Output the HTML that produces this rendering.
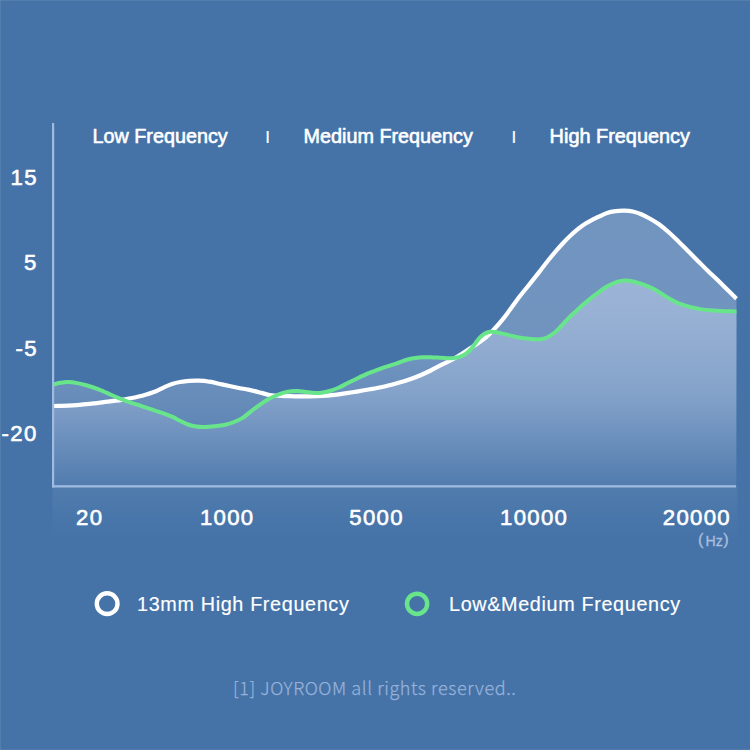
<!DOCTYPE html>
<html><head><meta charset="utf-8"><title>Frequency response</title>
<style>
html,body{margin:0;padding:0;overflow:hidden;}
body{width:750px;height:750px;overflow:hidden;background:#4573a8;}
svg{display:block;}
text{font-family:"Liberation Sans",sans-serif;fill:#fff;stroke:#fff;stroke-width:0.6px;stroke-linejoin:round;}
.ft{font-family:"Noto Sans CJK SC","Liberation Sans",sans-serif;font-weight:300;fill:#98b2d8;stroke:#98b2d8;stroke-width:0.25px;}
.hz{fill:#a9bfdf;stroke:#a9bfdf;stroke-width:0.3px;}
</style></head><body>
<svg width="750" height="750" viewBox="0 0 750 750">
<defs>
<linearGradient id="gw" x1="0" y1="210" x2="0" y2="486" gradientUnits="userSpaceOnUse">
<stop offset="0.0000" stop-color="#e8edff" stop-opacity="0.275"/>
<stop offset="0.4348" stop-color="#e8edff" stop-opacity="0.269"/>
<stop offset="0.6884" stop-color="#e8edff" stop-opacity="0.209"/>
<stop offset="0.8696" stop-color="#e8edff" stop-opacity="0.111"/>
<stop offset="0.9710" stop-color="#e8edff" stop-opacity="0.056"/>
<stop offset="1.0000" stop-color="#e8edff" stop-opacity="0.040"/>
</linearGradient>
<linearGradient id="gg" x1="0" y1="280" x2="0" y2="486" gradientUnits="userSpaceOnUse">
<stop offset="0.0000" stop-color="#e8edff" stop-opacity="0.357"/>
<stop offset="0.0971" stop-color="#e8edff" stop-opacity="0.337"/>
<stop offset="0.5340" stop-color="#e8edff" stop-opacity="0.223"/>
<stop offset="0.6553" stop-color="#e8edff" stop-opacity="0.167"/>
<stop offset="0.8252" stop-color="#e8edff" stop-opacity="0.098"/>
<stop offset="0.9612" stop-color="#e8edff" stop-opacity="0.049"/>
<stop offset="1.0000" stop-color="#e8edff" stop-opacity="0.034"/>
</linearGradient>
<linearGradient id="gb" x1="0" y1="486" x2="0" y2="540" gradientUnits="userSpaceOnUse">
<stop offset="0" stop-color="#fff" stop-opacity="0.062"/>
<stop offset="0.5" stop-color="#fff" stop-opacity="0.028"/>
<stop offset="1" stop-color="#fff" stop-opacity="0"/>
</linearGradient>
</defs>
<rect x="0" y="0" width="750" height="750" fill="#4573a8"/>
<rect x="0" y="0" width="750" height="1" fill="#fff" fill-opacity="0.08"/>
<rect x="0" y="0" width="1" height="750" fill="#fff" fill-opacity="0.08"/>
<rect x="0" y="749" width="750" height="1" fill="#fff" fill-opacity="0.06"/>
<rect x="52.500" y="486" width="685" height="54" fill="url(#gb)"/>
<path d="M53.0,406.0 C55.5,405.9 63.3,405.9 68.0,405.7 C72.7,405.5 76.8,405.1 81.3,404.7 C85.8,404.3 90.2,403.8 94.7,403.3 C99.2,402.8 103.6,402.3 108.0,401.7 C112.4,401.1 116.8,400.5 121.3,399.8 C125.8,399.1 131.2,398.2 134.7,397.5 C138.1,396.8 139.8,396.4 142.0,395.8 C144.2,395.2 145.7,394.8 148.0,394.0 C150.3,393.2 153.3,392.4 156.0,391.3 C158.7,390.2 161.3,388.5 164.0,387.3 C166.7,386.1 169.3,384.9 172.0,384.0 C174.7,383.1 177.1,382.5 180.0,382.0 C182.9,381.5 186.2,381.1 189.3,380.9 C192.4,380.7 195.4,380.6 198.7,380.7 C202.0,380.8 205.8,381.1 209.3,381.7 C212.9,382.2 216.4,383.2 220.0,384.0 C223.6,384.8 227.4,385.6 230.7,386.3 C234.0,387.0 237.1,387.6 240.0,388.2 C242.9,388.8 244.7,388.8 248.3,389.6 C251.9,390.4 258.1,392.0 261.7,392.9 C265.3,393.8 266.4,394.5 269.7,395.0 C273.0,395.5 277.5,395.8 281.7,396.0 C285.9,396.2 290.6,396.2 295.0,396.3 C299.4,396.4 303.9,396.4 308.3,396.4 C312.8,396.3 317.8,396.2 321.7,396.0 C325.6,395.8 328.4,395.6 332.0,395.2 C335.6,394.8 339.2,394.3 343.3,393.7 C347.4,393.1 352.2,392.3 356.7,391.6 C361.1,390.9 365.6,390.1 370.0,389.3 C374.4,388.5 378.9,387.7 383.3,386.7 C387.8,385.7 392.2,384.5 396.7,383.3 C401.1,382.1 405.9,380.7 410.0,379.3 C414.1,377.9 417.6,376.5 421.0,375.0 C424.4,373.5 427.3,372.2 430.7,370.5 C434.1,368.8 437.8,366.7 441.3,364.9 C444.9,363.1 448.4,361.6 452.0,359.6 C455.6,357.7 459.1,355.4 462.7,353.2 C466.2,351.0 469.7,348.7 473.3,346.3 C476.9,343.9 480.8,341.6 484.3,338.7 C487.8,335.8 491.1,332.4 494.3,329.0 C497.5,325.6 500.4,322.2 503.3,318.6 C506.2,315.0 509.0,310.9 511.7,307.3 C514.4,303.7 516.7,300.4 519.2,297.1 C521.7,293.8 524.2,290.8 526.7,287.7 C529.2,284.6 531.8,281.4 534.2,278.4 C536.6,275.4 538.6,272.8 541.0,269.7 C543.4,266.6 546.2,262.9 548.7,259.8 C551.2,256.7 553.6,253.8 556.1,250.9 C558.6,248.0 561.1,245.2 563.6,242.5 C566.1,239.8 568.6,237.3 571.1,235.0 C573.6,232.7 576.1,230.4 578.6,228.5 C581.1,226.6 583.6,224.8 586.0,223.3 C588.4,221.8 590.8,220.6 593.0,219.4 C595.2,218.2 597.1,217.4 599.5,216.3 C601.9,215.2 604.4,213.8 607.1,212.9 C609.8,212.1 612.8,211.6 615.6,211.2 C618.4,210.8 621.2,210.6 624.1,210.7 C627.0,210.8 629.9,210.9 632.7,211.5 C635.6,212.1 638.4,213.0 641.2,214.2 C644.0,215.4 646.7,216.8 649.7,218.5 C652.7,220.2 655.7,221.9 659.0,224.3 C662.3,226.7 666.2,230.0 669.6,233.0 C673.0,236.0 676.0,239.1 679.2,242.2 C682.4,245.3 685.6,248.6 688.8,251.8 C692.0,255.0 695.2,258.2 698.4,261.4 C701.6,264.6 704.8,267.9 708.0,271.0 C711.2,274.1 714.4,276.9 717.6,280.0 C720.8,283.1 724.1,286.5 727.2,289.6 C730.4,292.7 735.0,297.2 736.5,298.7 L736.3,486.3 L53,486.3 Z" fill="url(#gw)"/>
<path d="M53.0,384.7 C54.2,384.4 57.5,383.2 60.0,382.8 C62.5,382.4 65.1,381.9 68.0,382.0 C70.9,382.1 74.0,382.5 77.3,383.1 C80.6,383.7 84.4,384.7 88.0,385.7 C91.6,386.7 95.2,387.9 98.7,389.3 C102.2,390.7 105.8,392.4 109.3,394.0 C112.8,395.6 116.4,397.2 120.0,398.7 C123.6,400.1 127.2,401.5 130.7,402.7 C134.2,403.9 137.7,404.7 141.0,405.8 C144.3,406.9 147.3,408.1 150.7,409.2 C154.1,410.3 157.8,411.4 161.3,412.7 C164.9,413.9 168.9,415.4 172.0,416.7 C175.1,418.0 177.3,419.4 180.0,420.7 C182.7,422.0 185.3,423.5 188.0,424.5 C190.7,425.5 193.3,426.2 196.0,426.6 C198.7,427.0 200.9,427.2 204.0,427.1 C207.1,427.1 211.1,426.7 214.7,426.3 C218.2,425.9 222.1,425.4 225.3,424.7 C228.5,424.0 231.1,423.2 234.0,422.0 C236.9,420.8 240.2,419.4 243.0,417.6 C245.8,415.8 248.3,413.4 251.0,411.3 C253.7,409.2 256.3,407.2 259.0,405.3 C261.7,403.4 264.3,401.6 267.0,400.0 C269.7,398.4 272.3,397.2 275.0,396.0 C277.7,394.8 280.3,393.7 283.0,392.9 C285.7,392.1 288.6,391.6 291.0,391.3 C293.4,391.0 295.2,391.0 297.7,391.1 C300.1,391.2 302.8,391.7 305.7,392.0 C308.6,392.3 312.1,392.8 315.0,392.9 C317.9,393.0 320.4,392.8 323.0,392.4 C325.6,392.0 328.0,391.4 330.5,390.7 C333.0,390.0 335.2,389.2 338.0,388.0 C340.8,386.8 344.2,384.9 347.3,383.3 C350.4,381.8 352.9,380.5 356.7,378.7 C360.5,376.9 365.6,374.5 370.0,372.7 C374.4,370.9 378.9,369.3 383.3,367.7 C387.8,366.1 392.9,364.6 396.7,363.3 C400.5,362.0 402.9,360.9 406.0,360.0 C409.1,359.1 412.5,358.4 415.3,358.0 C418.1,357.6 420.5,357.4 423.0,357.3 C425.5,357.2 427.4,357.1 430.5,357.2 C433.6,357.3 437.7,357.6 441.3,357.8 C444.9,358.0 449.0,358.4 452.0,358.2 C455.0,358.0 457.2,357.6 459.5,356.9 C461.8,356.1 463.9,355.0 465.9,353.7 C467.8,352.4 469.6,350.7 471.2,348.9 C472.8,347.1 474.1,345.0 475.5,343.1 C476.9,341.2 478.2,339.2 479.7,337.7 C481.2,336.1 482.8,334.8 484.5,333.8 C486.2,332.8 488.2,332.1 490.0,331.8 C491.8,331.5 493.4,331.8 495.0,332.0 C496.6,332.2 497.3,332.5 499.5,333.0 C501.7,333.5 505.0,334.2 508.0,334.9 C511.0,335.6 514.2,336.6 517.3,337.2 C520.4,337.8 523.9,338.2 526.7,338.6 C529.5,339.0 531.8,339.2 534.0,339.3 C536.2,339.4 537.9,339.6 540.0,339.3 C542.1,339.0 544.1,338.8 546.5,337.7 C548.9,336.6 551.9,334.8 554.4,332.8 C556.9,330.8 559.2,328.1 561.6,325.6 C564.0,323.1 566.4,320.2 568.8,317.8 C571.2,315.4 573.6,313.4 576.0,311.2 C578.4,309.0 580.8,306.7 583.2,304.6 C585.6,302.5 588.0,300.5 590.4,298.6 C592.8,296.7 595.2,295.0 597.6,293.2 C600.0,291.4 602.6,289.2 604.8,287.8 C607.0,286.4 608.9,285.5 611.0,284.5 C613.1,283.5 615.2,282.4 617.5,281.8 C619.8,281.2 622.2,280.7 624.6,280.6 C627.0,280.5 628.8,280.6 632.0,281.3 C635.2,282.0 640.1,283.4 643.6,284.6 C647.1,285.9 650.1,287.2 653.2,288.8 C656.3,290.4 659.2,292.3 662.0,294.0 C664.8,295.7 667.5,297.6 670.0,299.0 C672.5,300.4 674.7,301.6 677.0,302.6 C679.3,303.6 681.6,304.4 684.0,305.2 C686.4,306.0 688.9,306.8 691.6,307.4 C694.3,308.0 696.9,308.6 700.0,309.1 C703.1,309.6 706.3,310.0 710.0,310.3 C713.7,310.6 717.6,310.9 722.0,311.1 C726.4,311.3 734.1,311.4 736.5,311.5 L736.3,486.3 L53,486.3 Z" fill="url(#gg)"/>
<path d="M53.0,406.0 C55.5,405.9 63.3,405.9 68.0,405.7 C72.7,405.5 76.8,405.1 81.3,404.7 C85.8,404.3 90.2,403.8 94.7,403.3 C99.2,402.8 103.6,402.3 108.0,401.7 C112.4,401.1 116.8,400.5 121.3,399.8 C125.8,399.1 131.2,398.2 134.7,397.5 C138.1,396.8 139.8,396.4 142.0,395.8 C144.2,395.2 145.7,394.8 148.0,394.0 C150.3,393.2 153.3,392.4 156.0,391.3 C158.7,390.2 161.3,388.5 164.0,387.3 C166.7,386.1 169.3,384.9 172.0,384.0 C174.7,383.1 177.1,382.5 180.0,382.0 C182.9,381.5 186.2,381.1 189.3,380.9 C192.4,380.7 195.4,380.6 198.7,380.7 C202.0,380.8 205.8,381.1 209.3,381.7 C212.9,382.2 216.4,383.2 220.0,384.0 C223.6,384.8 227.4,385.6 230.7,386.3 C234.0,387.0 237.1,387.6 240.0,388.2 C242.9,388.8 244.7,388.8 248.3,389.6 C251.9,390.4 258.1,392.0 261.7,392.9 C265.3,393.8 266.4,394.5 269.7,395.0 C273.0,395.5 277.5,395.8 281.7,396.0 C285.9,396.2 290.6,396.2 295.0,396.3 C299.4,396.4 303.9,396.4 308.3,396.4 C312.8,396.3 317.8,396.2 321.7,396.0 C325.6,395.8 328.4,395.6 332.0,395.2 C335.6,394.8 339.2,394.3 343.3,393.7 C347.4,393.1 352.2,392.3 356.7,391.6 C361.1,390.9 365.6,390.1 370.0,389.3 C374.4,388.5 378.9,387.7 383.3,386.7 C387.8,385.7 392.2,384.5 396.7,383.3 C401.1,382.1 405.9,380.7 410.0,379.3 C414.1,377.9 417.6,376.5 421.0,375.0 C424.4,373.5 427.3,372.2 430.7,370.5 C434.1,368.8 437.8,366.7 441.3,364.9 C444.9,363.1 448.4,361.6 452.0,359.6 C455.6,357.7 459.1,355.4 462.7,353.2 C466.2,351.0 469.7,348.7 473.3,346.3 C476.9,343.9 480.8,341.6 484.3,338.7 C487.8,335.8 491.1,332.4 494.3,329.0 C497.5,325.6 500.4,322.2 503.3,318.6 C506.2,315.0 509.0,310.9 511.7,307.3 C514.4,303.7 516.7,300.4 519.2,297.1 C521.7,293.8 524.2,290.8 526.7,287.7 C529.2,284.6 531.8,281.4 534.2,278.4 C536.6,275.4 538.6,272.8 541.0,269.7 C543.4,266.6 546.2,262.9 548.7,259.8 C551.2,256.7 553.6,253.8 556.1,250.9 C558.6,248.0 561.1,245.2 563.6,242.5 C566.1,239.8 568.6,237.3 571.1,235.0 C573.6,232.7 576.1,230.4 578.6,228.5 C581.1,226.6 583.6,224.8 586.0,223.3 C588.4,221.8 590.8,220.6 593.0,219.4 C595.2,218.2 597.1,217.4 599.5,216.3 C601.9,215.2 604.4,213.8 607.1,212.9 C609.8,212.1 612.8,211.6 615.6,211.2 C618.4,210.8 621.2,210.6 624.1,210.7 C627.0,210.8 629.9,210.9 632.7,211.5 C635.6,212.1 638.4,213.0 641.2,214.2 C644.0,215.4 646.7,216.8 649.7,218.5 C652.7,220.2 655.7,221.9 659.0,224.3 C662.3,226.7 666.2,230.0 669.6,233.0 C673.0,236.0 676.0,239.1 679.2,242.2 C682.4,245.3 685.6,248.6 688.8,251.8 C692.0,255.0 695.2,258.2 698.4,261.4 C701.6,264.6 704.8,267.9 708.0,271.0 C711.2,274.1 714.4,276.9 717.6,280.0 C720.8,283.1 724.1,286.5 727.2,289.6 C730.4,292.7 735.0,297.2 736.5,298.7" fill="none" stroke="#ffffff" stroke-width="4.2" stroke-linecap="butt" stroke-linejoin="round"/>
<path d="M53.0,384.7 C54.2,384.4 57.5,383.2 60.0,382.8 C62.5,382.4 65.1,381.9 68.0,382.0 C70.9,382.1 74.0,382.5 77.3,383.1 C80.6,383.7 84.4,384.7 88.0,385.7 C91.6,386.7 95.2,387.9 98.7,389.3 C102.2,390.7 105.8,392.4 109.3,394.0 C112.8,395.6 116.4,397.2 120.0,398.7 C123.6,400.1 127.2,401.5 130.7,402.7 C134.2,403.9 137.7,404.7 141.0,405.8 C144.3,406.9 147.3,408.1 150.7,409.2 C154.1,410.3 157.8,411.4 161.3,412.7 C164.9,413.9 168.9,415.4 172.0,416.7 C175.1,418.0 177.3,419.4 180.0,420.7 C182.7,422.0 185.3,423.5 188.0,424.5 C190.7,425.5 193.3,426.2 196.0,426.6 C198.7,427.0 200.9,427.2 204.0,427.1 C207.1,427.1 211.1,426.7 214.7,426.3 C218.2,425.9 222.1,425.4 225.3,424.7 C228.5,424.0 231.1,423.2 234.0,422.0 C236.9,420.8 240.2,419.4 243.0,417.6 C245.8,415.8 248.3,413.4 251.0,411.3 C253.7,409.2 256.3,407.2 259.0,405.3 C261.7,403.4 264.3,401.6 267.0,400.0 C269.7,398.4 272.3,397.2 275.0,396.0 C277.7,394.8 280.3,393.7 283.0,392.9 C285.7,392.1 288.6,391.6 291.0,391.3 C293.4,391.0 295.2,391.0 297.7,391.1 C300.1,391.2 302.8,391.7 305.7,392.0 C308.6,392.3 312.1,392.8 315.0,392.9 C317.9,393.0 320.4,392.8 323.0,392.4 C325.6,392.0 328.0,391.4 330.5,390.7 C333.0,390.0 335.2,389.2 338.0,388.0 C340.8,386.8 344.2,384.9 347.3,383.3 C350.4,381.8 352.9,380.5 356.7,378.7 C360.5,376.9 365.6,374.5 370.0,372.7 C374.4,370.9 378.9,369.3 383.3,367.7 C387.8,366.1 392.9,364.6 396.7,363.3 C400.5,362.0 402.9,360.9 406.0,360.0 C409.1,359.1 412.5,358.4 415.3,358.0 C418.1,357.6 420.5,357.4 423.0,357.3 C425.5,357.2 427.4,357.1 430.5,357.2 C433.6,357.3 437.7,357.6 441.3,357.8 C444.9,358.0 449.0,358.4 452.0,358.2 C455.0,358.0 457.2,357.6 459.5,356.9 C461.8,356.1 463.9,355.0 465.9,353.7 C467.8,352.4 469.6,350.7 471.2,348.9 C472.8,347.1 474.1,345.0 475.5,343.1 C476.9,341.2 478.2,339.2 479.7,337.7 C481.2,336.1 482.8,334.8 484.5,333.8 C486.2,332.8 488.2,332.1 490.0,331.8 C491.8,331.5 493.4,331.8 495.0,332.0 C496.6,332.2 497.3,332.5 499.5,333.0 C501.7,333.5 505.0,334.2 508.0,334.9 C511.0,335.6 514.2,336.6 517.3,337.2 C520.4,337.8 523.9,338.2 526.7,338.6 C529.5,339.0 531.8,339.2 534.0,339.3 C536.2,339.4 537.9,339.6 540.0,339.3 C542.1,339.0 544.1,338.8 546.5,337.7 C548.9,336.6 551.9,334.8 554.4,332.8 C556.9,330.8 559.2,328.1 561.6,325.6 C564.0,323.1 566.4,320.2 568.8,317.8 C571.2,315.4 573.6,313.4 576.0,311.2 C578.4,309.0 580.8,306.7 583.2,304.6 C585.6,302.5 588.0,300.5 590.4,298.6 C592.8,296.7 595.2,295.0 597.6,293.2 C600.0,291.4 602.6,289.2 604.8,287.8 C607.0,286.4 608.9,285.5 611.0,284.5 C613.1,283.5 615.2,282.4 617.5,281.8 C619.8,281.2 622.2,280.7 624.6,280.6 C627.0,280.5 628.8,280.6 632.0,281.3 C635.2,282.0 640.1,283.4 643.6,284.6 C647.1,285.9 650.1,287.2 653.2,288.8 C656.3,290.4 659.2,292.3 662.0,294.0 C664.8,295.7 667.5,297.6 670.0,299.0 C672.5,300.4 674.7,301.6 677.0,302.6 C679.3,303.6 681.6,304.4 684.0,305.2 C686.4,306.0 688.9,306.8 691.6,307.4 C694.3,308.0 696.9,308.6 700.0,309.1 C703.1,309.6 706.3,310.0 710.0,310.3 C713.7,310.6 717.6,310.9 722.0,311.1 C726.4,311.3 734.1,311.4 736.5,311.5" fill="none" stroke="#68e58b" stroke-width="4" stroke-linecap="butt" stroke-linejoin="round"/>
<rect x="52" y="123" width="2.200" height="364.500" fill="#a0bbe0"/>
<rect x="52" y="485.200" width="684" height="2.300" fill="#a0bbe0"/>
<text x="92.500" y="143.100" font-size="19.800">Low Frequency</text>
<text x="303.600" y="143.100" font-size="19.800">Medium Frequency</text>
<text x="549.600" y="143.100" font-size="19.900">High Frequency</text>
<text x="265.300" y="143.100" font-size="17" style="stroke-width:0.2px">I</text>
<text x="511.500" y="143.200" font-size="17" style="stroke-width:0.2px">I</text>
<text x="10.500" y="184.500" font-size="22.200" letter-spacing="1.300">15</text>
<text x="24.078" y="269.900" font-size="22.200" letter-spacing="1.300">5</text>
<text x="15.478" y="355.500" font-size="22.200" letter-spacing="1.300">-5</text>
<text x="1.558" y="441.100" font-size="22.200" letter-spacing="1.300">-20</text>
<text x="76.042" y="525.000" font-size="22.200" letter-spacing="1.300">20</text>
<text x="199.878" y="525.000" font-size="22.200" letter-spacing="1.300">1000</text>
<text x="349.358" y="525.000" font-size="22.200" letter-spacing="1.300">5000</text>
<text x="500.030" y="525.000" font-size="22.200" letter-spacing="1.300">10000</text>
<text x="662.814" y="525.000" font-size="22.200" letter-spacing="1.300">20000</text>
<text class="hz" x="698" y="546" font-size="14.200"><tspan font-size="16.300" dy="-0.8">(</tspan><tspan x="705.600" dy="0.8">Hz</tspan><tspan font-size="16.300" x="723.300" dy="-0.8">)</tspan></text>
<circle cx="107.150" cy="603.650" r="10.350" fill="none" stroke="#fff" stroke-width="4.400"/>
<circle cx="417.100" cy="603.800" r="10.100" fill="none" stroke="#68e58b" stroke-width="4.500"/>
<text x="137" y="611" font-size="19.800" letter-spacing="0.650" style="stroke-width:0.15px">13mm High Frequency</text>
<text x="449" y="611" font-size="19.800" letter-spacing="0.650" style="stroke-width:0.15px">Low&amp;Medium Frequency</text>
<text class="ft" x="233" y="694.500" font-size="18" letter-spacing="0.600">[1] JOYROOM all rights reserved..</text>
</svg>
</body></html>
